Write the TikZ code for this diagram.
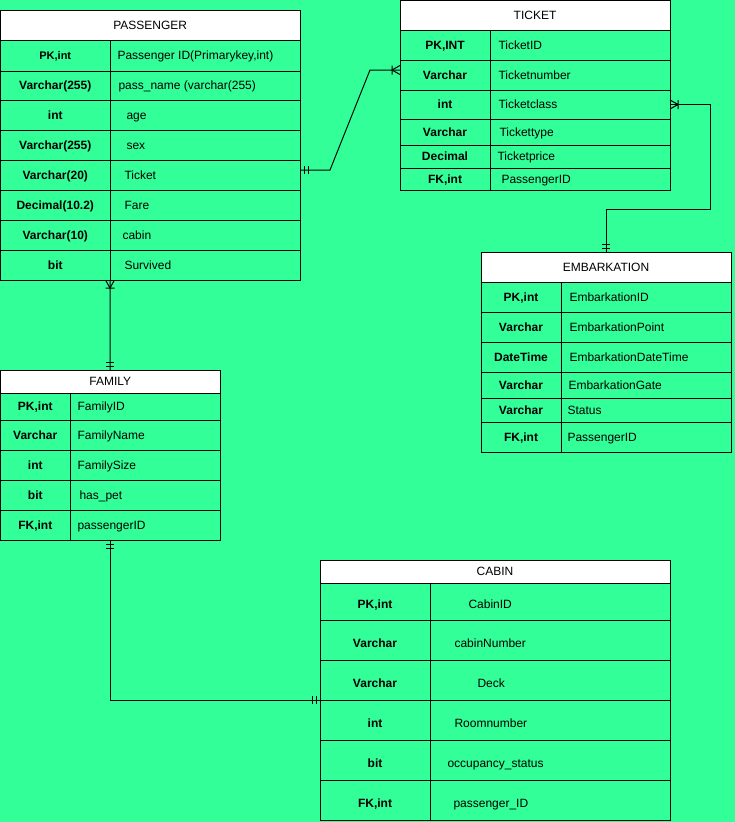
\documentclass[tikz,border=0pt]{standalone}
\usepackage{fontspec}
\setmainfont{Liberation Sans}
\definecolor{erbg}{HTML}{33FF99}

\begin{document}
\begin{tikzpicture}
[x=1pt,y=-1pt,line width=1pt,
every node/.style={font=\fontsize{12}{14}\selectfont,text height=11pt,text depth=2.5pt},
hdr/.style={draw,fill=white,outer sep=0pt,inner sep=0pt,anchor=north west},
cell/.style={draw,fill=erbg,outer sep=0pt,inner sep=0pt,anchor=north west,font=\fontsize{12}{14}\selectfont\bfseries},
fld/.style={inner sep=0pt,anchor=west},
mandone/.pic={\draw (4,-4) -- (4,4) (8,-4) -- (8,4);},
onemany/.pic={\draw (0,-4.5) -- (8,0) -- (0,4.5) (8,-4.5) -- (8,4.5);}]

\useasboundingbox (0,0) rectangle (735,822);
\fill[erbg] (0,0) rectangle (735,822);

% PASSENGER
\node[hdr,minimum width=299.5,minimum height=30] (pass) at (0.5,10) {PASSENGER};
\foreach \ya/\yb/\ty/\fd/\fx [count=\i] in {
 40/71/{\fontsize{11}{13}\selectfont PK,int}/{Passenger ID(Primarykey,int)}/117,
 71/100/Varchar(255)/{pass\_name (varchar(255)}/118,
 100/130/int/age/126,
 130/160/Varchar(255)/sex/126,
 160/190/Varchar(20)/Ticket/124,
 190/220/Decimal(10.2)/Fare/124,
 220/250/Varchar(10)/cabin/122,
 250/280/bit/Survived/124}
{
 \node[cell,minimum width=109.5,minimum height=\yb-\ya] (pass-t\i) at (0.5,\ya) {\ty};
 \node[cell,minimum width=190,minimum height=\yb-\ya] (pass-f\i) at (110,\ya) {};
 \node[fld] (pass-x\i) at (\fx,{(\ya+\yb)/2}) {\fd};
}

% TICKET
\node[hdr,minimum width=270,minimum height=29.5] (ticket) at (400,0.5) {TICKET};
\foreach \ya/\yb/\ty/\fd/\fx [count=\i] in {
 30/60/{PK,INT}/TicketID/498,
 60/90/Varchar/Ticketnumber/498,
 90/119/int/Ticketclass/498,
 119/145/Varchar/Tickettype/499,
 145/168/Decimal/Ticketprice/497,
 168/190/{FK,int}/PassengerID/501}
{
 \node[cell,minimum width=90,minimum height=\yb-\ya] (ticket-t\i) at (400,\ya) {\ty};
 \node[cell,minimum width=180,minimum height=\yb-\ya] (ticket-f\i) at (490,\ya) {};
 \node[fld] (ticket-x\i) at (\fx,{(\ya+\yb)/2}) {\fd};
}

% EMBARKATION
\node[hdr,minimum width=250,minimum height=30] (embark) at (481,252) {EMBARKATION};
\foreach \ya/\yb/\ty/\fd/\fx [count=\i] in {
 282/312/{PK,int}/EmbarkationID/569,
 312/342/Varchar/EmbarkationPoint/569,
 342/372/DateTime/EmbarkationDateTime/569,
 372/398/Varchar/EmbarkationGate/568,
 398/422/Varchar/Status/567,
 422/452/{FK,int}/PassengerID/567}
{
 \node[cell,minimum width=80,minimum height=\yb-\ya] (embark-t\i) at (481,\ya) {\ty};
 \node[cell,minimum width=170,minimum height=\yb-\ya] (embark-f\i) at (561,\ya) {};
 \node[fld] (embark-x\i) at (\fx,{(\ya+\yb)/2}) {\fd};
}

% FAMILY
\node[hdr,minimum width=219.5,minimum height=23] (family) at (0.5,370) {FAMILY};
\foreach \ya/\yb/\ty/\fd/\fx [count=\i] in {
 393/420/{PK,int}/FamilyID/77,
 420/450/Varchar/FamilyName/77,
 450/480/int/FamilySize/77,
 480/510/bit/has\_pet/79,
 510/540/{FK,int}/passengerID/77}
{
 \node[cell,minimum width=69.5,minimum height=\yb-\ya] (fam-t\i) at (0.5,\ya) {\ty};
 \node[cell,minimum width=150,minimum height=\yb-\ya] (fam-f\i) at (70,\ya) {};
 \node[fld] (fam-x\i) at (\fx,{(\ya+\yb)/2}) {\fd};
}

% CABIN (texts sit a little below the row centres)
\node[hdr,minimum width=350,minimum height=23] (cabin) at (320,560) {CABIN};
\foreach \ya/\yb/\ty/\fd/\fx [count=\i] in {
 583/620/{PK,int}/CabinID/468,
 620/660/Varchar/cabinNumber/454,
 660/700/Varchar/Deck/477,
 700/740/int/Roomnumber/454,
 740/780/bit/occupancy\_status/447,
 780/820/{FK,int}/passenger\_ID/453}
{
 \node[cell,minimum width=110,minimum height=\yb-\ya] (cabin-t\i) at (320,\ya) {};
 \node[cell,minimum width=240,minimum height=\yb-\ya] (cabin-f\i) at (430,\ya) {};
 \node[font=\fontsize{12}{14}\selectfont\bfseries,inner sep=0pt] (cabin-y\i) at ([yshift=-3pt]cabin-t\i.center) {\ty};
 \node[fld] (cabin-x\i) at (\fx,{(\ya+\yb)/2+3}) {\fd};
}

% relations
\draw ([yshift=5pt]pass-f5.east) -- ++(30,0) -- ++(40,-100) -- ([yshift=5pt]ticket-t2.west);
\pic at ([yshift=5pt]pass-f5.east) {mandone};
\pic[rotate=180] at ([yshift=5pt]ticket-t2.west) {onemany};

\draw (ticket-f3.east) -| ++(40,105) -| (embark.north);
\pic at (ticket-f3.east) {onemany};
\pic[rotate=90] at (embark.north) {mandone};

\draw (pass-t8.south east) -- (family.north);
\pic[rotate=-90] at (pass-t8.south east) {onemany};
\pic[rotate=90] at (family.north) {mandone};

\draw (family.south |- fam-t5.south) |- (cabin-t4.north west);
\pic[rotate=-90] at (family.south |- fam-t5.south) {mandone};
\pic[rotate=180] at (cabin-t4.north west) {mandone};
\end{tikzpicture}
\end{document}
